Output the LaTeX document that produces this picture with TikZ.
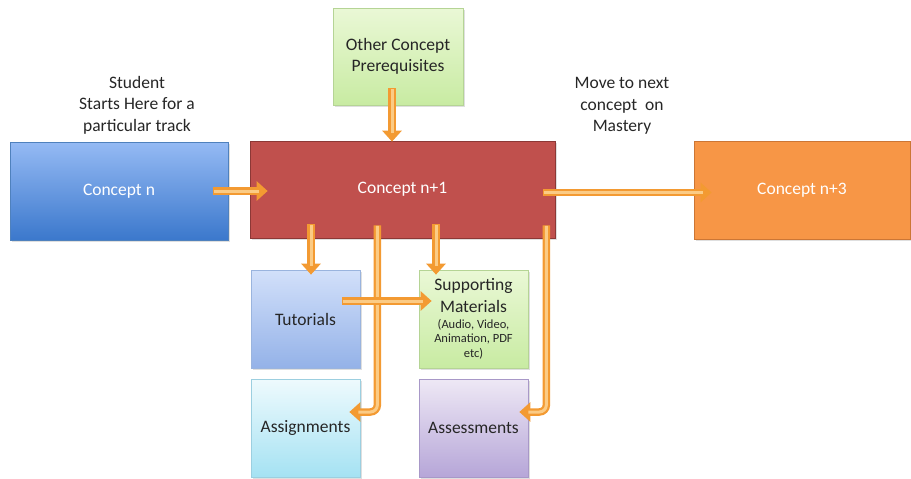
\documentclass[tikz,border=0pt]{standalone}
\usepackage{fontspec}
\setmainfont{Carlito}
\usetikzlibrary{arrows.meta,shadows,calc}
\definecolor{cnTop}{HTML}{95BAF4}
\definecolor{cnBot}{HTML}{3B78CC}
\definecolor{cnDraw}{HTML}{4F81BD}
\definecolor{redFill}{HTML}{C0504D}
\definecolor{redDraw}{HTML}{8C3836}
\definecolor{orFill}{HTML}{F79646}
\definecolor{orDraw}{HTML}{CC7635}
\definecolor{grTop}{HTML}{EAF8D6}
\definecolor{grBot}{HTML}{C8EBA2}
\definecolor{grDraw}{HTML}{B5D495}
\definecolor{tuTop}{HTML}{D2E0FA}
\definecolor{tuBot}{HTML}{94B2E8}
\definecolor{tuDraw}{HTML}{9AB4DE}
\definecolor{asTop}{HTML}{EEFAFD}
\definecolor{asBot}{HTML}{A5E2F3}
\definecolor{asDraw}{HTML}{9CCFE0}
\definecolor{puTop}{HTML}{EEE8F5}
\definecolor{puBot}{HTML}{B6A6D8}
\definecolor{puDraw}{HTML}{A898C8}
\definecolor{arrowc}{HTML}{F39A32}
\definecolor{arrowl}{HTML}{FBCB85}
\definecolor{txt}{HTML}{262626}
\newcommand{\smallfnt}{\fontsize{12.5}{14.5}\selectfont}
\begin{document}
\begin{tikzpicture}[x=1pt,y=-1pt,
  box/.style={rectangle, draw, line width=0.7pt, inner sep=2pt, align=center,
    font=\fontsize{17.5}{21.5}\selectfont,
    drop shadow={shadow xshift=1.5pt, shadow yshift=-1.5pt, opacity=0.25}},
  smallbox/.style={box, minimum width=109pt, minimum height=98pt, text=txt},
  fat/.style={line width=7.5pt, draw=arrowc, -{Triangle[length=11pt,width=19pt]},
    postaction={draw=arrowl, line width=3pt, -, shorten >=9pt, shorten <=0.5pt}},
  lbl/.style={align=center, text=txt, font=\fontsize{17.5}{21.5}\selectfont}]
\useasboundingbox (0,0) rectangle (911,479);

\node[box, minimum width=218pt, minimum height=98pt, top color=cnTop, bottom color=cnBot, draw=cnDraw, text=white] (cn) at (119,191) {\raisebox{-2pt}{Concept n}};
\node[box, minimum width=305pt, minimum height=97pt, fill=redFill, draw=redDraw, text=white] (cn1) at (402.5,189.5) {\raisebox{-2pt}{Concept n+1}};
\node[box, minimum width=130pt, minimum height=97pt, top color=grTop, bottom color=grBot, draw=grDraw, text=txt] (pre) at (398,56.5) {Other Concept\\Prerequisites};
\node[box, minimum width=216pt, minimum height=98pt, fill=orFill, draw=orDraw, text=white] (cn3) at (802,190) {\raisebox{-2pt}{Concept n+3}};

\node[smallbox, top color=tuTop, bottom color=tuBot, draw=tuDraw] (tut) at (305.5,319) {\raisebox{-2pt}{Tutorials}};
\node[smallbox, top color=grTop, bottom color=grBot, draw=grDraw] (sup) at (473.5,319) {Supporting\\Materials\\[-5.5pt]\smallfnt (Audio, Video,\\[-7pt]\smallfnt Animation, PDF\\[-7pt]\smallfnt etc)};
\node[smallbox, top color=asTop, bottom color=asBot, draw=asDraw] (asg) at (305.5,428) {\raisebox{-3pt}{Assignments}};
\node[smallbox, top color=puTop, bottom color=puBot, draw=puDraw] (ass) at (473.5,428) {\raisebox{-3pt}{Assessments}};

\node[lbl] (start) at (137,105) {Student\\Starts Here for a\\particular track};
\node[lbl] (move) at (622,106) {Move to next\\concept\ \ on\\Mastery};

\draw[fat] ($(cn.east)+(-15,0)$) -- ($(cn.east -| cn1.west)+(18,0)$);
\draw[fat] ($(pre.south)+(-6,-17)$) -- ($(pre.south |- cn1.north)+(-6,1)$);
\draw[fat] ($(cn1.east)+(-12,3)$) -- ($(cn1.east -| cn3.west)+(18,3)$);
\draw[fat] ($(cn1.south -| tut.north)+(5.5,-14)$) -- ($(tut.north)+(5.5,5)$);
\draw[fat] ($(cn1.south -| sup.north)+(-37.5,-14)$) -- ($(sup.north)+(-37.5,5)$);
\draw[fat, rounded corners=7pt] ($(cn1.south -| tut.east)+(17,-13)$) -- ($(asg.east)+(17,-16)$) -- ($(asg.east)+(-11,-16)$);
\draw[fat, rounded corners=7pt] ($(cn1.south -| ass.east)+(18,-13)$) -- ($(ass.east)+(18,-16)$) -- ($(ass.east)+(-9,-16)$);
\draw[fat] ($(tut.east)+(-18,-18)$) -- ($(sup.west)+(13,-18)$);
\end{tikzpicture}
\end{document}
